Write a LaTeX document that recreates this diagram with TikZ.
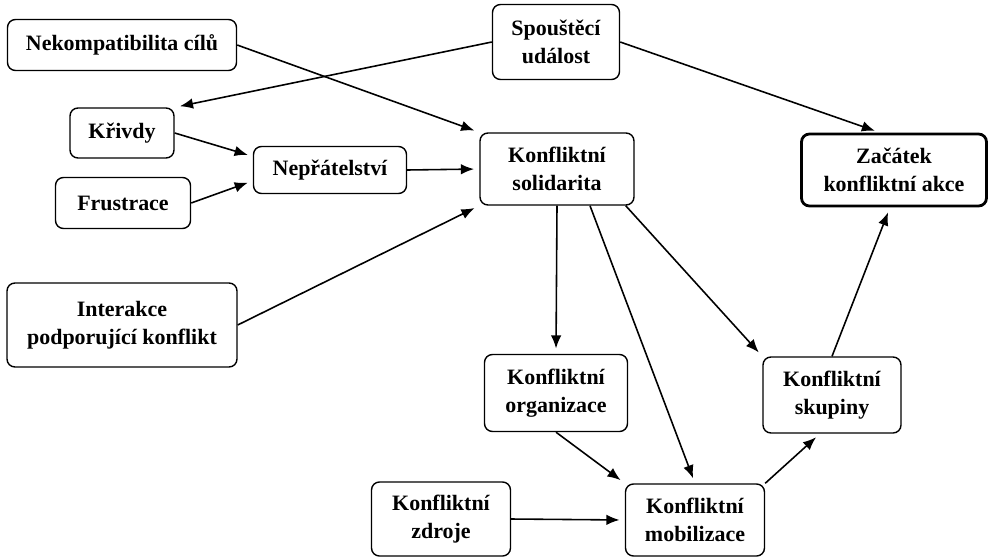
\documentclass[tikz,border=0pt]{standalone}
\usepackage{fontspec}
\setmainfont{LiberationSerif}[Extension = .ttf, UprightFont = *-Regular, BoldFont = *-Bold]
\usetikzlibrary{arrows.meta,positioning}

\tikzset{
  box/.style = {draw, thick, shape = rectangle, rounded corners = 4.5pt, align = center,
    inner sep = 1pt, font = \bfseries\fontsize{12.5}{16}\selectfont},
  goal/.style = {box, line width = 1.6pt},
  sip/.style = {-{Latex[length = 7.5pt, width = 6pt]}, line width = 0.9pt, shorten > = 3pt}
}

\begin{document}
\begin{tikzpicture}[x = 0.02cm, y = -0.02cm]
\useasboundingbox (0,0) rectangle (990,558);
\node[box, minimum width = 4.58cm, minimum height = 1.02cm] (nek) at (122,45) {Nekompatibilita cílů};
\node[box, minimum width = 2.54cm, minimum height = 1.5cm]  (spo) at (556,42) {Spouštěcí\\událost};
\node[box, minimum width = 2.08cm, minimum height = 1cm]    (kri) at (122,133) {Křivdy};
\node[box, minimum width = 2.7cm, minimum height = 1.02cm]  (fru) at (123,203) {Frustrace};
\node[box, minimum width = 3.06cm, minimum height = 0.94cm] (nep) at (330,170) {Nepřátelství};
\node[box, minimum width = 3.08cm, minimum height = 1.44cm] (sol) at (557,169) {Konfliktní\\solidarita};
\node[goal, minimum width = 3.7cm, minimum height = 1.44cm] (zac) at (894,170) {Začátek\\konfliktní akce};
\node[box, minimum width = 4.6cm, minimum height = 1.68cm]  (int) at (122,325) {Interakce\\podporující konflikt};
\node[box, minimum width = 2.86cm, minimum height = 1.54cm] (org) at (556,393) {Konfliktní\\organizace};
\node[box, minimum width = 2.76cm, minimum height = 1.52cm] (sku) at (832,395) {Konfliktní\\skupiny};
\node[box, minimum width = 2.78cm, minimum height = 1.48cm] (zdr) at (441,519) {Konfliktní\\zdroje};
\node[box, minimum width = 2.78cm, minimum height = 1.44cm] (mob) at (695,520) {Konfliktní\\mobilizace};

% sipky
\draw[sip] (nek.east) -- (sol.north west);
\draw[sip] (spo.west) -- (kri.north east);
\draw[sip] (spo.east) -- ([xshift = -0.28cm]zac.north);
\draw[sip] (kri.east) -- (nep.170);
\draw[sip] (fru.east) -- (nep.188);
\draw[sip] (nep.east) -- (sol.west);
\draw[sip] (int.east) -- (sol.south west);
\draw[sip] (sol.south) -- (org.north);
\draw[sip] ([xshift = 0.66cm]sol.south) -- (mob.north);
\draw[sip] ([xshift = -0.18cm]sol.south east) -- (sku.north west);
\draw[sip] (org.south) -- (mob.north west);
\draw[sip] (zdr.east) -- (mob.west);
\draw[sip] (mob.north east) -- ([xshift = -0.24cm]sku.south);
\draw[sip] (sku.north) -- ([xshift = -0.08cm]zac.south);
\end{tikzpicture}
\end{document}
